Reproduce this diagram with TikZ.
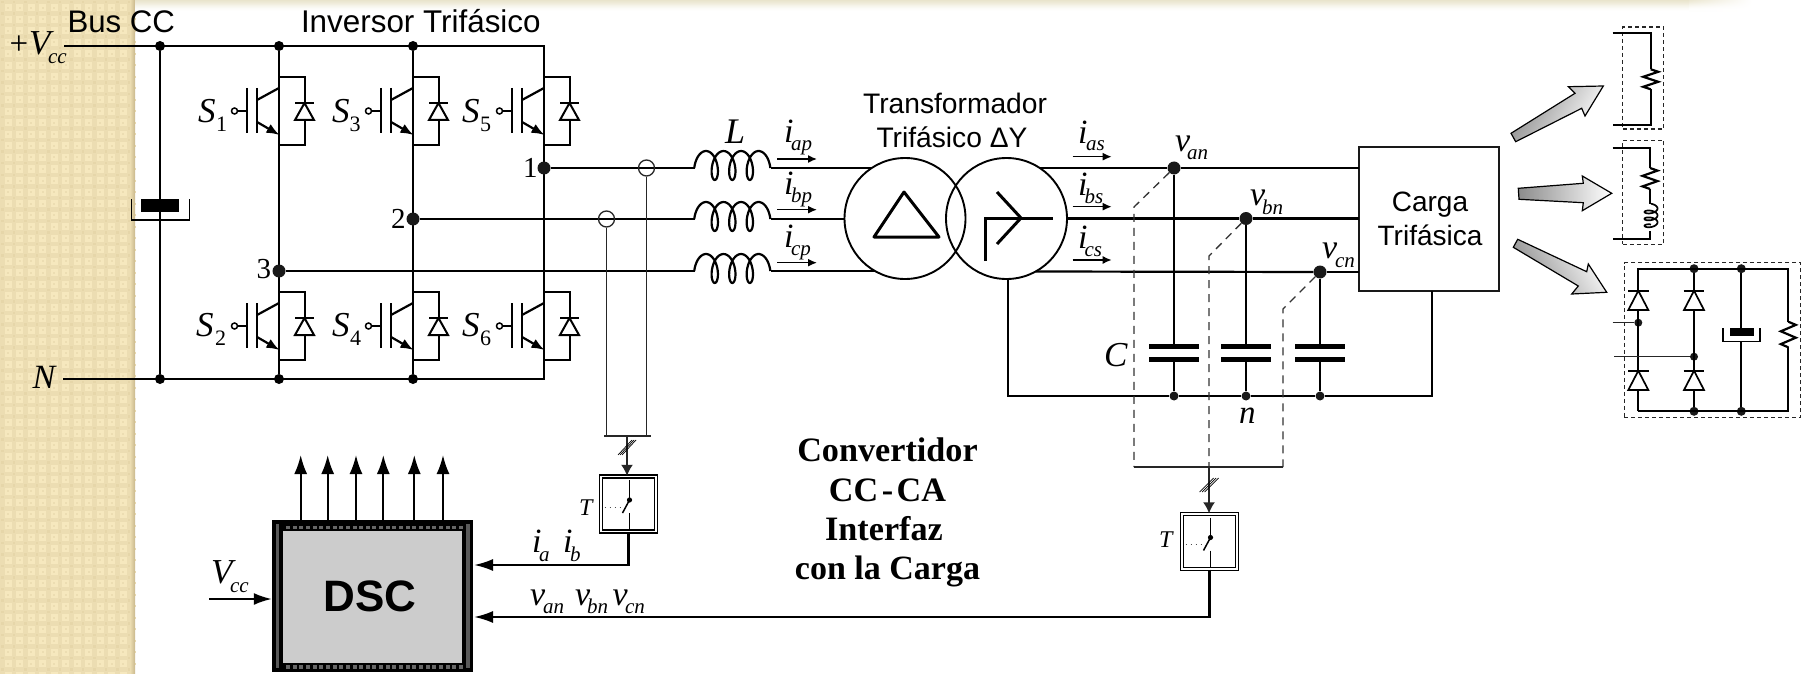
\documentclass[tikz,border=0pt]{standalone}
\usepackage{fontspec}
\setmainfont{Liberation Serif}
\newfontfamily\arialf{Liberation Sans}
\usetikzlibrary{arrows.meta,calc}
\definecolor{bandA}{HTML}{F6E8BE}
\definecolor{bandB}{HTML}{ECDDB2}
\definecolor{bandD}{HTML}{E6D6A9}
\definecolor{bandC}{HTML}{C9B88C}
\definecolor{topC}{HTML}{E9E4CC}
\tikzset{
  wire/.style={line width=2.2pt,black},
  thin wire/.style={line width=1.5pt,black!85},
  dash wire/.style={line width=1.3pt,black!80,dash pattern=on 8pt off 6pt},
  box dash/.style={line width=1.3pt,black!85,dash pattern=on 4pt off 3pt},
  dot/.style={circle,fill=black,draw=none,inner sep=0pt,minimum size=10pt},
  bigdot/.style={circle,fill=black!90,draw=none,inner sep=0pt,minimum size=13pt},
  smalldot/.style={circle,fill=black!90,draw=none,inner sep=0pt,minimum size=9pt},
  ctcoil/.style={circle,draw=black!85,line width=1.3pt,inner sep=0pt,minimum size=16pt},
  bigarrow/.style={draw=black,line width=1.2pt,line join=miter},
  smallhead/.style={-{Latex[length=9pt,width=8pt]},line width=1.5pt},
  bighead/.style={-{Latex[length=19pt,width=13pt]},line width=2pt},
  coilline/.style={line width=2.2pt,black,line join=round},
  lab/.style={anchor=base west,inner sep=0pt,outer sep=0pt},
  clab/.style={anchor=base,inner sep=0pt,outer sep=0pt}
}
\newcommand\itx[5]{\node[lab,font=\fontsize{#4}{#4}\selectfont\itshape] (#1) at (#2,#3) {#5};}
\newcommand\rmx[5]{\node[lab,font=\fontsize{#4}{#4}\selectfont] (#1) at (#2,#3) {#5};}
\newcommand\sfx[5]{\node[clab,font=\fontsize{#4}{#4}\selectfont\arialf] (#1) at (#2,#3) {#5};}
\newcommand\bfx[5]{\node[clab,font=\fontsize{#4}{#4}\selectfont\bfseries] (#1) at (#2,#3) {#5};}
% IGBT with antiparallel diode: column x, gate y
\newcommand\igbtcell[2]{\begin{scope}[shift={(#1,#2)}]
  \draw[wire,line width=2pt] (0,-34) -- (25.5,-34) -- (25.5,-8);
  \draw[wire,line width=2pt] (25.5,9) -- (25.5,34) -- (0,34);
  \draw[line width=2pt,line join=miter] (25.5,-8) -- (16,9) -- (35,9) -- cycle;
  \draw[line width=2pt] (16,-8) -- (35,-8);
  \draw[line width=2.4pt] (-32,-23) -- (-32,22);
  \draw[line width=2.4pt] (-22,-23) -- (-22,22);
  \draw[line width=2.6pt] (-42,0) -- (-32,0);
  \draw[line width=1.5pt,fill=white] (-44.5,0) circle (3pt);
  \draw[wire] (-22,-11) -- (0,-23);
  \draw[wire,-{Latex[length=13pt,width=10pt]}] (-22,11) -- (0.5,24);
\end{scope}}
% inductor (prolate trochoid) between x 695 and 771
\newcommand\linecoil[1]{\draw[coilline] plot[domain=-100:1180,samples=110] ({706+\x/180*3.14159*2.79+7*sin(\x)},{#1-2.5-14.5*cos(\x)});}
% vertical zigzag resistor
\newcommand\resv[4]{\pgfmathsetmacro\rh{(#3-#2)/8}\begin{scope}[shift={(#1,#2)}]
  \draw[wire,line join=miter] (0,0) -- (#4,\rh) -- (-#4,{3*\rh}) -- (#4,{5*\rh}) -- (-#4,{7*\rh}) -- (0,{8*\rh});
\end{scope}}
% sampler box
\newcommand\sampler[3]{\begin{scope}[shift={(#1,#2)}]
  \node[draw=black,line width=1.4pt,double=white,double distance=1.4pt,minimum size=55pt,inner sep=0pt] (#3) at (0,0) {};
  \draw[line width=1.5pt] (1,-24) -- (1,-4);
  \draw[line width=1.5pt] (1,-4) -- (-6,9);
  \draw[line width=1.5pt] (1,9) -- (1,26);
  \fill (1,-4) circle (2.6pt);
  \draw[line width=0.9pt,black!70,dash pattern=on 1pt off 4pt] (-24,3) -- (-6,3);
\end{scope}}
\begin{document}
\begin{tikzpicture}[x=1pt,y=-1pt]
\useasboundingbox (0,0) rectangle (1802,674);
\fill[white] (0,0) rectangle (1802,674);
% ---- slide background
\fill[bandA] (0,0) rectangle (135,674);
\foreach \i in {0,...,11}{\fill[bandB] ({\i*11.5},0) rectangle ({\i*11.5+4.5},674);}
\foreach \j in {0,...,58}{\fill[bandB] (0,{\j*11.5}) rectangle (135,{\j*11.5+4.5});}
\foreach \i in {0,...,11}{\foreach \j in {0,...,58}{
  \fill[bandD] ({\i*11.5+1},{\j*11.5+1}) rectangle ({\i*11.5+3.5},{\j*11.5+3.5});
  \fill[bandB] ({\i*11.5+7},{\j*11.5+7}) rectangle ({\i*11.5+9},{\j*11.5+9});
}}
\shade[left color=bandB,right color=bandC] (130,0) rectangle (135,674);
\foreach \r/\p in {0/100,1/90,2/80,3/70,4/58,5/46,6/35,7/25,8/16,9/9,10/4}{
  \fill[topC!\p!white] (135,\r) rectangle (1690,{\r+1.3});
  \shade[left color=topC!\p!white,right color=white] (1689,\r) rectangle (1752,{\r+1.3});
}
% ---- DC bus nodes
\coordinate (vccL) at (64,46);
\coordinate (nL) at (63,379);
\coordinate (rTop) at (544,46);
\coordinate (rBot) at (544,379);
\node[dot] (a0) at (160,46) {};
\node[dot] (a1) at (279,46) {};
\node[dot] (a2) at (413,46) {};
\node[dot] (b0) at (160,379) {};
\node[dot] (b1) at (279,379) {};
\node[dot] (b2) at (413,379) {};
\draw[wire] (vccL) -- (rTop) -- (rBot) -- (nL);
\draw[wire] (a0) -- (b0);
\draw[wire] (a1) -- (b1);
\draw[wire] (a2) -- (b2);
% electrolytic capacitor
\fill[black] (141,199) rectangle (179,212);
\draw[wire,line cap=butt,line width=1.7pt] (131.5,199) -- (131.5,220) -- (189.5,220) -- (189.5,199);
% switches
\igbtcell{279}{111}\igbtcell{413}{111}\igbtcell{544}{111}
\igbtcell{279}{326}\igbtcell{413}{326}\igbtcell{544}{326}
% phase nodes
\node[bigdot] (p1) at (544,168) {};
\node[bigdot] (p2) at (413,219) {};
\node[bigdot] (p3) at (279,271) {};
% inductors
\coordinate (la1) at (695,168);\coordinate (la2) at (695,219);\coordinate (la3) at (695,271);
\coordinate (lb1) at (771,168);\coordinate (lb2) at (771,219);\coordinate (lb3) at (771,271);
\linecoil{168}\linecoil{219}\linecoil{271}
% transformer
\node[circle,draw,line width=1.9pt,inner sep=0pt,minimum size=121pt] (tp) at (905,218.5) {};
\node[circle,draw,line width=1.9pt,inner sep=0pt,minimum size=121pt] (ts) at (1006.5,218.5) {};
\coordinate (tl1) at (872,168);\coordinate (tl2) at (845,219);\coordinate (tl3) at (875,271);
\coordinate (tr1) at (1040,168);\coordinate (tr2) at (1067,218.5);\coordinate (tr3) at (1036,271.5);
\draw[line width=3pt,line join=round] (904,192) -- (874,237) -- (939,237) -- cycle;
\draw[line width=3pt] (985,261) -- (985,218) -- (1053,218);
\draw[line width=3pt] (997,192) -- (1021,218) -- (997,244);
% load box and output nodes
\node[draw=black!90,line width=1.4pt,minimum width=140pt,minimum height=144pt,inner sep=0pt] (load) at (1429,219) {};
\node[bigdot] (va) at (1174,168) {};
\node[bigdot] (vb) at (1246,218.5) {};
\node[bigdot] (vc) at (1320,272) {};
\coordinate (ca) at (1359,168);\coordinate (cb) at (1359,218.5);\coordinate (cc) at (1359,272);
% phase wires
\draw[wire] (p1) -- (la1);\draw[wire] (lb1) -- (tl1);
\draw[wire] (p2) -- (la2);\draw[wire] (lb2) -- (tl2);
\draw[wire] (p3) -- (la3);\draw[wire] (lb3) -- (tl3);
\draw[wire] (tr1) -- (va);\draw[wire] (va) -- (ca);
\draw[wire] (tr2) -- (vb);\draw[wire] (vb) -- (cb);
\draw[wire] (tr3) -- (vc);\draw[wire] (vc) -- (cc);
% filter capacitors
\node[smalldot] (na) at (1174,396) {};
\node[smalldot] (nb) at (1246,396) {};
\node[smalldot] (nc) at (1320,396) {};
\foreach \n/\d/\xx in {a/va/1174,b/vb/1246,c/vc/1320}{
  \fill (\xx-25,343.5) rectangle (\xx+25,348.5);
  \fill (\xx-25,356.5) rectangle (\xx+25,361.5);
  \draw[wire] (\d) -- (\xx,346);
  \draw[wire] (\xx,359) -- (n\n);
}
\coordinate (nt) at (1008,279);
\coordinate (nl) at (1432,291);
\draw[wire] (nt) -- (1008,396) -- (na);
\draw[wire] (na) -- (nb);\draw[wire] (nb) -- (nc);
\draw[wire] (nc) -- (1432,396) -- (nl);
% current sensors
\node[ctcoil] (ct1) at (646.5,168) {};
\node[ctcoil] (ct2) at (606.5,219) {};
\coordinate (barL) at (604,436);\coordinate (barR) at (651,436);
\coordinate (barM) at (627,436);
\draw[thin wire] (barL) -- (barR);
\draw[thin wire] (ct1) -- (646.5,436);
\draw[thin wire] (ct2) -- (606.5,436);
\sampler{628.5}{504}{s1box}
\draw[thin wire,-{Latex[length=11pt,width=12pt]}] (barM) -- (s1box.north -| barM);
\foreach \d in {-2,0,2}{\draw[line width=.7pt] (620+\d,455) -- (634+\d,440);}
% voltage sensing
\coordinate (da1) at (1134,207);\coordinate (da2) at (1134,467);
\coordinate (db1) at (1209,256);\coordinate (db2) at (1209,467);
\coordinate (dc1) at (1283,309);\coordinate (dc2) at (1283,467);
\draw[dash wire] (va) -- (da1) -- (da2);
\draw[dash wire] (vb) -- (db1) -- (db2);
\draw[dash wire] (vc) -- (dc1) -- (dc2);
\draw[thin wire] (da2) -- (dc2);
\sampler{1209.5}{541.5}{s2box}
\draw[thin wire,-{Latex[length=11pt,width=12pt]}] (db2) -- (s2box.north -| db2);
\foreach \d in {-2.5,0,2.5}{\draw[line width=.7pt] (1202+\d,492) -- (1216+\d,478);}
% DSC
\node[draw=none,fill=black,minimum width=201pt,minimum height=152pt,inner sep=0pt] (dsc) at (372.5,596) {};
\fill[black!65] (275.5,524) rectangle (279,668);
\fill[black!65] (466,524) rectangle (469.5,668);
\foreach \i in {0,...,26}{
  \fill[black!60] ({286+\i*6.65},525.5) rectangle ({290+\i*6.65},529);
  \fill[black!60] ({286+\i*6.65},665) rectangle ({290+\i*6.65},668.5);
}
\fill[black!20] (283,531) rectangle (462,663);
\sfx{dsctxt}{370}{611}{44}{\bfseries DSC}
\foreach \x/\n in {300.7/1,327.7/2,356/3,383.3/4,414.3/5,443/6}{
  \coordinate (pout\n) at (\x,455);
  \coordinate (pin\n) at (\x,520);
  \draw[bighead] (pin\n) -- (pout\n);
}
\coordinate (vccin) at (209,599);
\draw[bighead,-{Latex[length=18pt,width=12pt]}] (vccin) -- (dsc.west |- vccin);
\coordinate (ib1) at (628.5,565);
\draw[wire,-{Latex[length=19pt,width=12pt]}] (s1box.south -| ib1) -- (ib1) -- (474,565);
\coordinate (vb1) at (1209.5,617);
\draw[wire,-{Latex[length=19pt,width=12pt]}] (s2box.south -| vb1) -- (vb1) -- (474,617);
% current arrows
\foreach \n/\y in {a/159,b/209.7,c/262.7}{
  \coordinate (ip\n) at (777,\y);\coordinate (iq\n) at (817,\y);
  \draw[smallhead] (ip\n) -- (iq\n);
}
\foreach \n/\y in {a/156.7,b/206.7,c/260}{
  \coordinate (is\n) at (1072.6,\y);\coordinate (it\n) at (1111.7,\y);
  \draw[smallhead] (is\n) -- (it\n);
}
% load variants
\draw[bigarrow,left color=black!45,right color=white,shading angle=60] (1511,133.3) -- (1575,93.3) -- (1568.3,86.7) -- (1603.3,86) -- (1585,116) -- (1581.7,108.3) -- (1515.7,141.7) -- cycle;
\draw[bigarrow,left color=black!45,right color=white] (1518.3,188.3) -- (1583.3,183.3) -- (1582.3,176) -- (1611.7,193.3) -- (1582.3,210.7) -- (1583.3,202.7) -- (1519,199.3) -- cycle;
\draw[bigarrow,left color=black!45,right color=white,shading angle=120] (1517.7,239.3) -- (1586.7,271.7) -- (1588.3,264) -- (1606.7,292.3) -- (1571.7,294) -- (1578.3,286) -- (1513.3,247.3) -- cycle;
% load 1
\node[box dash,draw,minimum width=41pt,minimum height=102pt,inner sep=0pt] (l1box) at (1643.3,78) {};
\coordinate (l1a) at (1612.7,33.3);\coordinate (l1b) at (1650.7,33.3);
\coordinate (l1c) at (1650.7,69.3);\coordinate (l1d) at (1650.7,89.3);
\coordinate (l1e) at (1650.7,125);\coordinate (l1f) at (1612.7,125);
\draw[wire,line width=1.9pt] (l1a) -- (l1b) -- (l1c);
\draw[wire,line width=1.9pt] (l1d) -- (l1e) -- (l1f);
\resv{1650.7}{69.3}{89.3}{7.5}
% load 2
\node[box dash,draw,minimum width=41pt,minimum height=104pt,inner sep=0pt] (l2box) at (1643.3,192.3) {};
\coordinate (l2a) at (1612.7,148.3);\coordinate (l2b) at (1650,148.3);
\coordinate (l2c) at (1650,168);\coordinate (l2d) at (1650,189);
\coordinate (l2e) at (1650,204);\coordinate (l2f) at (1650,231);
\coordinate (l2g) at (1650,239);\coordinate (l2h) at (1612.7,239);
\draw[wire,line width=1.9pt] (l2a) -- (l2b) -- (l2c);
\resv{1650}{168}{189}{7.5}
\draw[wire,line width=1.9pt] (l2d) -- (l2e);
\draw[coilline,line width=1.7pt] plot[domain=-90:990,samples=90] ({1651+6.5*cos(\x)},{208.5+\x/180*3.14159*1.1+3*sin(\x)});
\draw[wire,line width=1.9pt] (l2f) -- (l2g) -- (l2h);
% load 3
\node[box dash,draw,minimum width=176.4pt,minimum height=155pt,inner sep=0pt] (l3box) at (1712.5,340.2) {};
\node[smalldot] (t1) at (1694,268.7) {};
\node[smalldot] (t2) at (1741.3,268.7) {};
\node[smalldot] (u1) at (1694,411.3) {};
\node[smalldot] (u2) at (1741.3,411.3) {};
\node[smalldot,minimum size=8pt] (j1) at (1638.3,322.7) {};
\node[smalldot,minimum size=8pt] (j2) at (1694,356.7) {};
\coordinate (c1) at (1638.3,268.7);\coordinate (c2) at (1788.3,268.7);
\coordinate (c3) at (1638.3,411.3);\coordinate (c4) at (1788.3,411.3);
\coordinate (in1) at (1612.7,322.7);\coordinate (in2) at (1614,356.7);
\draw[wire,line width=1.9pt] (c3) -- (c1) -- (c2) -- (1788.3,321.7);
\draw[wire,line width=1.9pt] (1788.3,347.3) -- (c4) -- (c3);
\resv{1788.3}{321.7}{347.3}{7.5}
\draw[wire,line width=1.7pt] (t1) -- (u1);
\draw[wire,line width=1.7pt] (t2) -- (1741.3,336);
\draw[wire,line width=1.7pt] (1741.3,341.3) -- (u2);
\fill (1730,328.3) rectangle (1754,336);
\draw[line width=1.6pt] (1722.7,328) -- (1722.7,341.3) -- (1760,341.3) -- (1760,328);
\draw[thin wire] (in1) -- (j1);
\draw[thin wire] (in2) -- (j2);
\foreach \dx/\dy in {1638.3/290.7,1694/290.7,1638.3/370.7,1694/370.7}{
  \draw[line width=1.7pt,fill=white,line join=miter] (\dx,\dy) -- (\dx-10,\dy+19.3) -- (\dx+10,\dy+19.3) -- cycle;
  \draw[line width=1.9pt] (\dx-10.3,\dy) -- (\dx+10.3,\dy);
}
% ---- texts
\node[lab,font=\fontsize{31.2}{31.2}\selectfont\arialf] (tbus) at (67.5,33) {Bus CC};
\node[lab,font=\fontsize{31.4}{31.4}\selectfont\arialf] (tinv) at (301,33) {Inversor Trifásico};
\sfx{ttr1}{955}{113.5}{28.2}{Transformador}
\sfx{ttr2}{952}{147.5}{28.2}{Trifásico ΔY}
\sfx{tca1}{1430}{211.7}{28}{Carga}
\sfx{tca2}{1430}{245.3}{28}{Trifásica}
\bfx{tc1}{887.5}{461.7}{34.2}{Convertidor}
\bfx{tc2}{887.5}{501}{34.2}{CC\hspace{.1em}-\hspace{.1em}CA}
\bfx{tc3}{884}{540}{34.2}{Interfaz}
\bfx{tc4}{887.5}{579}{34}{con la Carga}
\rmx{tplus}{9.5}{55}{33}{+}
\itx{tv}{29}{55}{35}{V}\itx{tvs}{48}{64}{21}{cc}
\itx{tn}{32.5}{388}{34}{N}
\itx{sa}{198}{122.7}{35}{S}\rmx{sas}{216}{131.7}{22}{1}
\itx{sb}{332}{122.7}{35}{S}\rmx{sbs}{349.5}{131.7}{22}{3}
\itx{sc}{462}{122.7}{35}{S}\rmx{scs}{480}{131.7}{22}{5}
\itx{sd}{196}{336}{35}{S}\rmx{sds}{215}{345}{22}{2}
\itx{se}{332}{336}{35}{S}\rmx{ses}{350}{345}{22}{4}
\itx{sf}{462}{336}{35}{S}\rmx{sfs}{480}{345}{22}{6}
\rmx{n1}{523}{178}{29}{1}
\rmx{n2}{391}{228}{29}{2}
\rmx{n3}{256.5}{278}{29}{3}
\itx{tL}{725}{143}{36}{L}
\itx{ia}{784}{142.7}{34}{i}\itx{ias}{791}{150}{21}{ap}
\itx{ib}{784}{194}{34}{i}\itx{ibs}{791}{202}{21}{bp}
\itx{ic}{784}{247}{34}{i}\itx{ics}{791}{255}{21}{cp}
\itx{ja}{1078}{143}{34}{i}\itx{jas}{1086}{151}{21}{as}
\itx{jb}{1078}{195}{34}{i}\itx{jbs}{1084.5}{203}{21}{bs}
\itx{jc}{1078}{248}{34}{i}\itx{jcs}{1084.5}{256}{21}{cs}
\itx{va1}{1175}{151.7}{34}{v}\itx{va2}{1187}{160}{21}{an}
\itx{vb1t}{1250}{205}{34}{v}\itx{vb2}{1262}{214.5}{21}{bn}
\itx{vc1}{1322}{258}{34}{v}\itx{vc2}{1335}{267}{21}{cn}
\itx{tC}{1104}{366.7}{35}{C}
\itx{tnn}{1239}{423}{33}{n}
\itx{T1}{579}{515}{24}{T}
\itx{T2}{1159}{547}{24}{T}
\itx{iA}{532}{552.7}{34}{i}\itx{iAs}{539}{561.7}{21}{a}
\itx{iB}{563}{552.7}{34}{i}\itx{iBs}{570}{561.7}{21}{b}
\itx{vA}{530}{605}{34}{v}\itx{vAs}{543}{613}{21}{an}
\itx{vB}{575}{605}{34}{v}\itx{vBs}{587}{613}{21}{bn}
\itx{vC}{612.7}{605}{34}{v}\itx{vCs}{625}{613}{21}{cn}
\itx{tV}{211}{583}{35}{V}\itx{tVs}{230}{592}{21}{cc}
\end{tikzpicture}
\end{document}
